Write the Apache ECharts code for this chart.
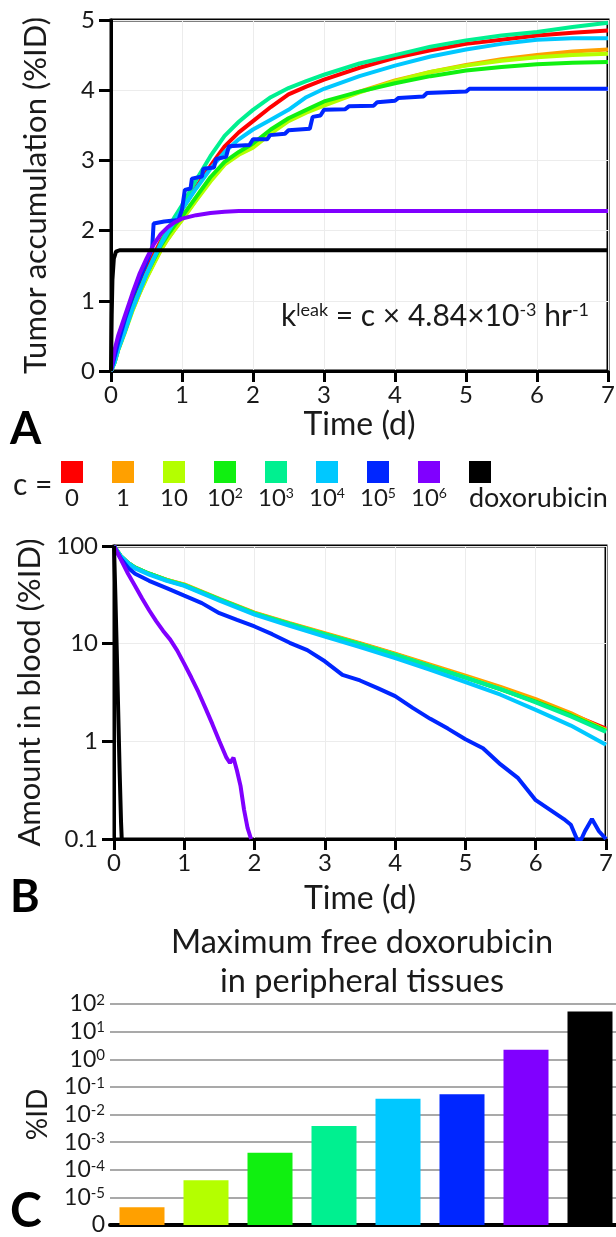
<!DOCTYPE html>
<html><head><meta charset="utf-8">
<script src="https://cdn.jsdelivr.net/npm/echarts@6/dist/echarts.min.js"></script>
<style>html,body{margin:0;padding:0;background:#fff}#c{width:616px;height:1237px}</style>
</head><body><div id="c"></div>
<script>
// ---------- legend / categories ----------
const cLabels = ['0','1','10','10^2','10^3','10^4','10^5','10^6','doxorubicin'];
const colors  = ['#ff0000','#ffa000','#b4ff00','#10f010','#00f090','#00c8ff','#0026ff','#8000ff','#000000'];

// ---------- Panel A: tumor accumulation (%ID) ----------
const tA      = [0,0.05,0.1,0.2,0.3,0.4,0.5,0.6,0.7,0.8,0.9,1.0,1.2,1.4,1.6,1.8,2.0,2.25,2.5,2.75,3.0,3.5,4.0,4.5,5.0,5.5,6.0,6.5,7.0];
const redA    = [0,0.15,0.35,0.65,0.95,1.2,1.45,1.65,1.85,2.0,2.15,2.3,2.62,2.92,3.2,3.4,3.56,3.76,3.94,4.05,4.15,4.32,4.46,4.57,4.66,4.72,4.78,4.82,4.85];
const orangeA = [0,0.12,0.3,0.58,0.86,1.1,1.33,1.53,1.72,1.88,2.02,2.16,2.44,2.72,2.95,3.1,3.2,3.4,3.58,3.7,3.8,3.98,4.14,4.26,4.36,4.44,4.5,4.55,4.58];
const limeA   = [0,0.12,0.29,0.56,0.85,1.1,1.32,1.52,1.72,1.88,2.02,2.15,2.43,2.7,2.94,3.08,3.18,3.38,3.56,3.68,3.78,3.97,4.13,4.26,4.35,4.42,4.47,4.5,4.52];
const greenA  = [0,0.13,0.32,0.6,0.9,1.15,1.38,1.58,1.78,1.94,2.08,2.2,2.48,2.76,2.98,3.12,3.24,3.44,3.6,3.72,3.84,3.98,4.1,4.2,4.28,4.33,4.37,4.39,4.4];
const tealA   = [0,0.12,0.3,0.58,0.88,1.13,1.38,1.6,1.82,2.02,2.2,2.36,2.72,3.06,3.35,3.55,3.72,3.9,4.03,4.13,4.22,4.38,4.5,4.62,4.71,4.78,4.83,4.9,4.96];
const skyA    = [0,0.12,0.3,0.58,0.88,1.13,1.38,1.6,1.8,1.98,2.14,2.3,2.6,2.88,3.12,3.3,3.44,3.58,3.72,3.9,4.02,4.2,4.35,4.48,4.58,4.66,4.72,4.74,4.74];
const purpleA = [0,0.3,0.5,0.8,1.1,1.38,1.6,1.8,1.95,2.05,2.12,2.17,2.22,2.25,2.27,2.28,2.28,2.28,2.28,2.28,2.28,2.28,2.28,2.28,2.28,2.28,2.28,2.28,2.28];
const tBlueA  = [0,0.1,0.2,0.3,0.4,0.5,0.58,0.6,0.75,0.95,1.0,1.04,1.12,1.14,1.28,1.3,1.45,1.48,1.62,1.66,1.95,2.0,2.2,2.24,2.45,2.5,2.8,2.84,2.95,3.0,3.3,3.35,3.7,3.75,4.0,4.05,4.4,4.45,5.0,5.05,7.0];
const blueA   = [0,0.4,0.75,1.05,1.3,1.55,1.75,2.1,2.13,2.15,2.3,2.58,2.6,2.74,2.77,2.88,2.9,3.02,3.05,3.2,3.22,3.3,3.3,3.36,3.38,3.43,3.45,3.62,3.64,3.72,3.73,3.77,3.78,3.83,3.85,3.89,3.91,3.96,3.98,4.02,4.02];
const tBlackA = [0,0.01,0.02,0.04,0.07,0.12,7];
const blackA  = [0,0.8,1.3,1.6,1.7,1.72,1.72];

// ---------- Panel B: amount in blood (%ID), log ----------
const tB      = [0,0.05,0.1,0.2,0.3,0.5,0.75,1.0,1.5,2.0,2.5,3.0,3.5,4.0,4.5,5.0,5.5,6.0,6.5,7.0];
const redB    = [100,88,78,67,60,52,45,40,28.5,20.5,16,12.6,10,7.8,6.0,4.6,3.5,2.6,1.9,1.35];
const orangeB = [100,88,78,67,60,52,45,40.5,28.8,20.8,16.2,12.8,10.1,7.9,6.1,4.7,3.6,2.7,1.95,1.3];
const limeB   = [100,88,78,67,60,52,45,40,28.3,20.4,15.9,12.5,9.9,7.7,5.9,4.55,3.45,2.55,1.85,1.3];
const greenB  = [100,88,78,67,60,52,44.5,39.5,28.2,20.3,15.8,12.4,9.8,7.6,5.85,4.5,3.4,2.55,1.85,1.28];
const tealB   = [100,88,78,67,60,52,44.8,39.8,28.4,20.4,15.9,12.5,9.9,7.7,5.9,4.5,3.42,2.5,1.8,1.25];
const skyB    = [100,88,78,67,59,51,44,39,27.5,19.8,15.2,11.8,9.2,7.1,5.4,4.05,3.0,2.1,1.45,0.92];
const tBlueB  = [0,0.05,0.1,0.2,0.3,0.5,0.75,1.0,1.25,1.5,1.75,2.0,2.25,2.5,2.75,3.0,3.25,3.5,3.75,4.0,4.25,4.5,4.75,5.0,5.25,5.5,5.75,6.0,6.2,6.4,6.5,6.6,6.65,6.7,6.8,6.9,7.0];
const blueB   = [100,85,74,60,52,44,37,31,26,20.5,17.5,15,12.5,10.2,8.6,6.6,4.8,4.2,3.5,2.9,2.2,1.7,1.35,1.05,0.85,0.58,0.42,0.25,0.2,0.16,0.14,0.095,0.1,0.12,0.16,0.12,0.1];
const tPurpleB = [0,0.1,0.2,0.3,0.4,0.5,0.6,0.7,0.8,0.9,1.0,1.1,1.2,1.3,1.4,1.5,1.6,1.65,1.7,1.75,1.8,1.85,1.9,1.95];
const purpleB  = [100,72,52,39,29,22,17,13.5,11,8.5,6.2,4.5,3.2,2.2,1.5,1.0,0.68,0.6,0.68,0.5,0.35,0.2,0.13,0.1];
const tBlackB = [0,0.02,0.04,0.06,0.08,0.1,0.11];
const blackB  = [100,30,8,2,0.5,0.15,0.1];

// ---------- Panel C: max free doxorubicin (%ID), log ----------
const barCats   = ['1','10','10^2','10^3','10^4','10^5','10^6','doxorubicin'];
const barVals   = [4.4e-6, 4.2e-5, 4.1e-4, 3.8e-3, 0.037, 0.054, 2.2, 53];
const barColors = colors.slice(1);
const bTickLabels = ['0.1','1','10','100'];
const cTickLabels = ['0','10^-5','10^-4','10^-3','10^-2','10^-1','10^0','10^1','10^2'];

// ---------- helpers ----------
const FONT = 'Lato';
const TXT = '#1a1a1a';
const zip = (t, v) => t.map((x, i) => [x, v[i]]);
function supRich(s, base, sup) {
  const p = s.split('^');
  return p.length === 2 ? '{' + base + '|' + p[0] + '}{' + sup + '|' + p[1] + '}' : '{' + base + '|' + s + '}';
}

const chart = echarts.init(document.getElementById('c'), null, {renderer: 'canvas'});

function lineSeries(idx, data, color, z) {
  return {type: 'line', xAxisIndex: idx, yAxisIndex: idx, data: data, showSymbol: false, symbol: 'none',
    lineStyle: {color: color, width: 4}, itemStyle: {color: color}, animation: false, z: z || 2};
}

function timeAxis(idx, gap) {
  return {gridIndex: idx, type: 'value', min: 0, max: 7, interval: 1,
    axisLine: {show: true, onZero: false, lineStyle: {color: '#000', width: 3}},
    axisTick: {show: true, inside: false, length: 11, lineStyle: {color: '#000', width: 3}},
    axisLabel: {fontSize: 24, fontFamily: FONT, color: TXT, margin: 12},
    splitLine: {show: true, lineStyle: {color: '#ececec', width: 1}},
    name: 'Time (d)', nameLocation: 'middle', nameGap: gap,
    nameTextStyle: {fontSize: 32, fontFamily: FONT, color: TXT}};
}

const colA = [redA, orangeA, limeA, greenA, tealA, skyA];
const colB = [redB, orangeB, limeB, greenB, tealB, skyB];

const series = [];
colA.forEach((v, i) => series.push(lineSeries(0, zip(tA, v), colors[i])));
series.push(lineSeries(0, zip(tBlueA, blueA), colors[6]));
series.push(lineSeries(0, zip(tA, purpleA), colors[7]));
series.push(lineSeries(0, zip(tBlackA, blackA), colors[8]));
colB.forEach((v, i) => series.push(lineSeries(1, zip(tB, v), colors[i])));
series.push(lineSeries(1, zip(tBlueB, blueB), colors[6]));
series.push(lineSeries(1, zip(tPurpleB, purpleB), colors[7]));
series.push(lineSeries(1, zip(tBlackB, blackB), colors[8]));
series.push({type: 'bar', xAxisIndex: 2, yAxisIndex: 2, barWidth: 45, animation: false,
  data: barVals.map((v, i) => ({value: v, itemStyle: {color: barColors[i]}}))});

// graphic: panel letters, legend, annotations
const graphics = [];
function txt(x, y, text, size, opts) {
  opts = opts || {};
  const st = {text: text, fontSize: size, fontFamily: FONT, fill: opts.fill || TXT,
    fontWeight: opts.weight || 'normal',
    align: opts.align || 'left', verticalAlign: opts.valign || 'middle',
    textAlign: opts.align || 'left', textVerticalAlign: opts.valign || 'middle'};
  if (opts.rich) st.rich = opts.rich;
  graphics.push({type: 'text', x: x, y: y, style: st, z: 100});
}
txt(10, 407, 'A', 45, {weight: 'bold', valign: 'top', fill: '#000'});
txt(10, 875, 'B', 45, {weight: 'bold', valign: 'top', fill: '#000'});
txt(10, 1188, 'C', 48, {weight: 'bold', valign: 'top', fill: '#000'});

const legRich = {n: {fontSize: 24, fontFamily: FONT, fill: TXT}, s: {fontSize: 14, fontFamily: FONT, fill: TXT, verticalAlign: 'top'}};
txt(13, 485, 'c =', 30);
cLabels.forEach((lab, i) => {
  graphics.push({type: 'rect', shape: {x: 61 + 51 * i, y: 461, width: 22, height: 22}, style: {fill: colors[i]}, z: 100});
  if (lab === 'doxorubicin') txt(469, 498, lab, 27, {align: 'left'});
  else txt(72 + 51 * i, 498, supRich(lab, 'n', 's'), 24, {rich: legRich, align: 'center'});
});

const kRich = {n: {fontSize: 30, fontFamily: FONT, fill: TXT}, s: {fontSize: 18, fontFamily: FONT, fill: TXT, verticalAlign: 'top'}};
txt(281, 316, '{n|k}{s|leak}{n| = c × 4.84×10}{s|-3}{n| hr}{s|-1}', 30, {rich: kRich});

txt(362, 943, 'Maximum free doxorubicin', 32.5, {align: 'center'});
txt(362, 982, 'in peripheral tissues', 32.5, {align: 'center'});

const option = {
  backgroundColor: '#fff',
  animation: false,
  grid: [
    {left: 111, top: 20, width: 497, height: 351, show: true, borderColor: '#000', borderWidth: 3, outerBoundsMode: 'none'},
    {left: 114, top: 546, width: 492, height: 293, show: true, borderColor: '#000', borderWidth: 3, outerBoundsMode: 'none'},
    {left: 110, top: 1004, width: 512, height: 221, outerBoundsMode: 'none'}
  ],
  xAxis: [
    timeAxis(0, 38),
    timeAxis(1, 44),
    {gridIndex: 2, type: 'category', data: barCats,
      axisLine: {show: true, onZero: false, lineStyle: {color: '#000', width: 4}},
      axisTick: {show: false}, axisLabel: {show: false}, splitLine: {show: false}}
  ],
  yAxis: [
    {gridIndex: 0, type: 'value', min: 0, max: 5, interval: 1,
      axisLine: {show: true, onZero: false, lineStyle: {color: '#000', width: 3}},
      axisTick: {show: true, inside: false, length: 12, lineStyle: {color: '#000', width: 3}},
      axisLabel: {fontSize: 24, fontFamily: FONT, color: TXT, margin: 16},
      splitLine: {show: true, lineStyle: {color: '#ececec', width: 1}},
      name: 'Tumor accumulation (%ID)', nameLocation: 'middle', nameGap: 60,
      nameTextStyle: {fontSize: 31, fontFamily: FONT, color: TXT}},
    {gridIndex: 1, type: 'log', logBase: 10, min: 0.1, max: 100, splitNumber: 3,
      axisLine: {show: true, onZero: false, lineStyle: {color: '#000', width: 3}},
      axisTick: {show: true, inside: false, length: 12, lineStyle: {color: '#000', width: 3}},
      axisLabel: {fontSize: 24, fontFamily: FONT, color: TXT, margin: 16,
        formatter: v => bTickLabels[Math.round(Math.log10(v)) + 1]},
      splitLine: {show: true, lineStyle: {color: '#ececec', width: 1}},
      minorTick: {show: false}, minorSplitLine: {show: false},
      name: 'Amount in blood (%ID)', nameLocation: 'middle', nameGap: 63,
      nameTextStyle: {fontSize: 31, fontFamily: FONT, color: TXT}},
    {gridIndex: 2, type: 'log', logBase: 10, min: 1e-6, max: 100, splitNumber: 8, startValue: 1e-6,
      axisLine: {show: false}, axisTick: {show: false},
      axisLabel: {margin: 5, color: TXT,
        formatter: v => supRich(cTickLabels[Math.round(Math.log10(v)) + 6], 'b', 's'),
        rich: {b: {fontSize: 23, fontFamily: FONT, color: TXT}, s: {fontSize: 15, fontFamily: FONT, color: TXT, verticalAlign: 'top'}}},
      splitLine: {show: true, lineStyle: {color: '#a9a9a9', width: 2}},
      name: '%ID', nameLocation: 'middle', nameGap: 58,
      nameTextStyle: {fontSize: 28, fontFamily: FONT, color: TXT}}
  ],
  series: series,
  graphic: graphics
};
chart.setOption(option);
</script></body></html>
